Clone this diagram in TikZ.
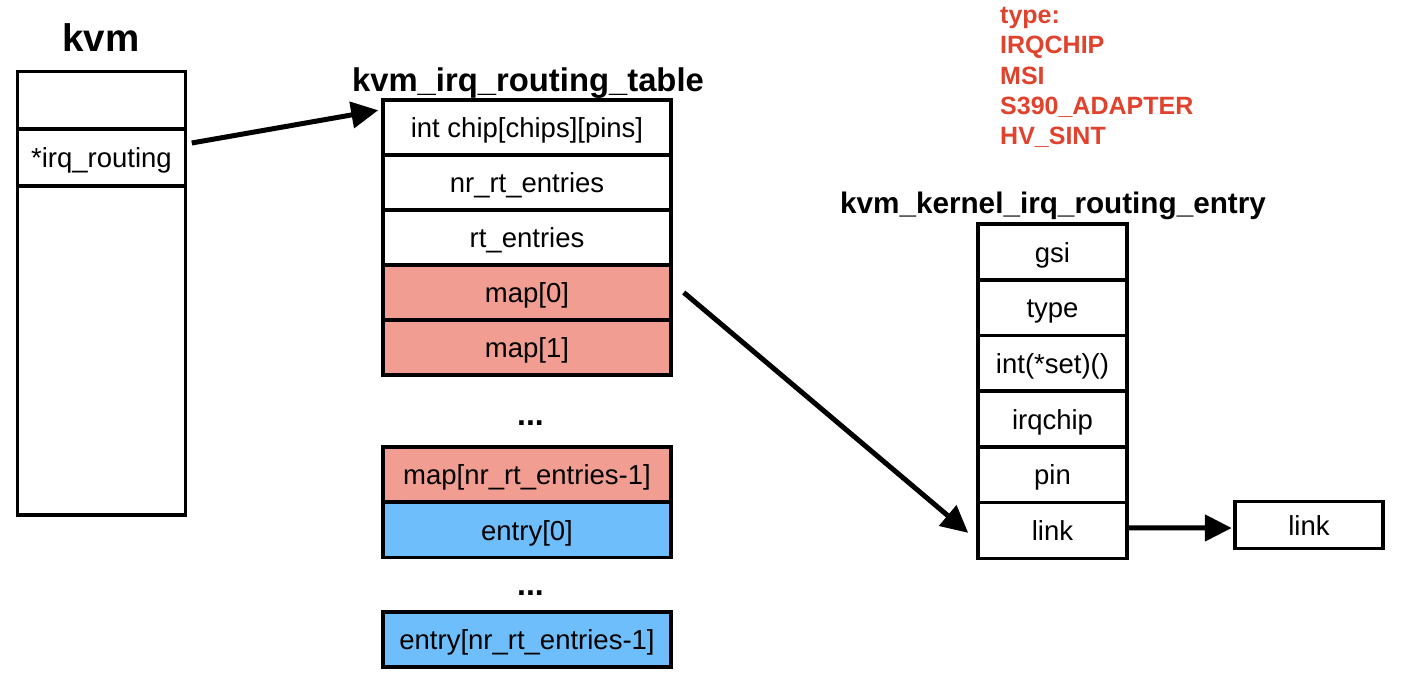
\documentclass[tikz,border=0pt]{standalone}
\usepackage{fontspec}
\setmainfont{Liberation Sans}
\usetikzlibrary{arrows.meta,calc}
\definecolor{mappink}{RGB}{241,157,145}
\definecolor{entblue}{RGB}{109,190,250}
\definecolor{typered}{RGB}{225,66,45}
\begin{document}
\begin{tikzpicture}[x=1pt,y=-1pt,
  cell/.style={draw, line width=3.5pt, inner sep=0pt, fill=white, text height=22pt, text depth=2pt, font=\fontsize{27.5}{33}\selectfont},
  kvmcell/.style={cell, minimum width=168pt},
  tabcell/.style={cell, minimum width=288pt, minimum height=55pt},
  entcell/.style={cell, minimum width=149pt, minimum height=55.7pt},
  mapcell/.style={tabcell, fill=mappink},
  bluecell/.style={tabcell, fill=entblue},
  title/.style={anchor=base, inner sep=0pt, font=\bfseries\fontsize{32}{38}\selectfont},
  dotsnode/.style={anchor=base, inner sep=0pt, font=\bfseries\fontsize{32}{38}\selectfont},
  ptr/.style={line width=5pt, -{Triangle[length=27pt,width=26pt]}}
]
\useasboundingbox[fill=white] (0,0) rectangle (1402,690);

% kvm
\node[title, font=\bfseries\fontsize{38.5}{44}\selectfont] (kvmtitle) at (101,52) {kvm};
\node[kvmcell, minimum height=57pt] (kvm0) at (101.5,100) {};
\node[kvmcell, minimum height=57pt] (kvmirq) at (101.5,157.5) {*irq\_routing};
\node[kvmcell, minimum height=329pt] (kvmrest) at (101.5,350.5) {};

% kvm_irq_routing_table
\node[title, font=\bfseries\fontsize{32.8}{38}\selectfont] (tabtitle) at (528,92) {kvm\_irq\_routing\_table};
\node[tabcell] (chip) at (527,127.5) {int chip[chips][pins]};
\node[tabcell] (nrrt) at (527,182.5) {nr\_rt\_entries};
\node[tabcell] (rtent) at (527,237.5) {rt\_entries};
\node[mapcell] (map0) at (527,292.5) {map[0]};
\node[mapcell] (map1) at (527,347.5) {map[1]};
\node[dotsnode] (dots1) at (530.5,425) {...};
\node[mapcell] (maplast) at (527,474.5) {map[nr\_rt\_entries-1]};
\node[bluecell] (entry0) at (527,530) {entry[0]};
\node[dotsnode] (dots2) at (530.5,595) {...};
\node[bluecell] (entrylast) at (527,639.5) {entry[nr\_rt\_entries-1]};

% type list
\node[anchor=north west, inner sep=0pt, align=left, text=typered,
      font=\bfseries\fontsize{25}{30.3}\selectfont] (types) at (1000,7)
  {type:\\IRQCHIP\\MSI\\S390\_ADAPTER\\HV\_SINT};

% kvm_kernel_irq_routing_entry
\node[title, font=\bfseries\fontsize{29.7}{36}\selectfont] (enttitle) at (1053,213) {kvm\_kernel\_irq\_routing\_entry};
\node[entcell] (gsi) at (1052.5,252) {gsi};
\node[entcell] (type) at (1052.5,307.6) {type};
\node[entcell] (setfn) at (1052.5,363.3) {int(*set)()};
\node[entcell] (irqchip) at (1052.5,419) {irqchip};
\node[entcell] (pin) at (1052.5,474.7) {pin};
\node[entcell] (entlink) at (1052.5,530.4) {link};

\node[cell, minimum width=148pt, minimum height=47pt] (linkbox) at (1309,525) {link};

% connectors
\draw[ptr] ($(kvmirq.east)+(4.5,-14.5)$) -- ($(chip.north west)+(-3,12)$);
\draw[ptr] ($(map0.east)+(11,0)$) -- ($(entlink.west)+(-8,2.5)$);
\draw[ptr] ($(entlink.east)+(0,-2.5)$) -- ($(linkbox.west)+(-1.5,3)$);
\end{tikzpicture}
\end{document}
